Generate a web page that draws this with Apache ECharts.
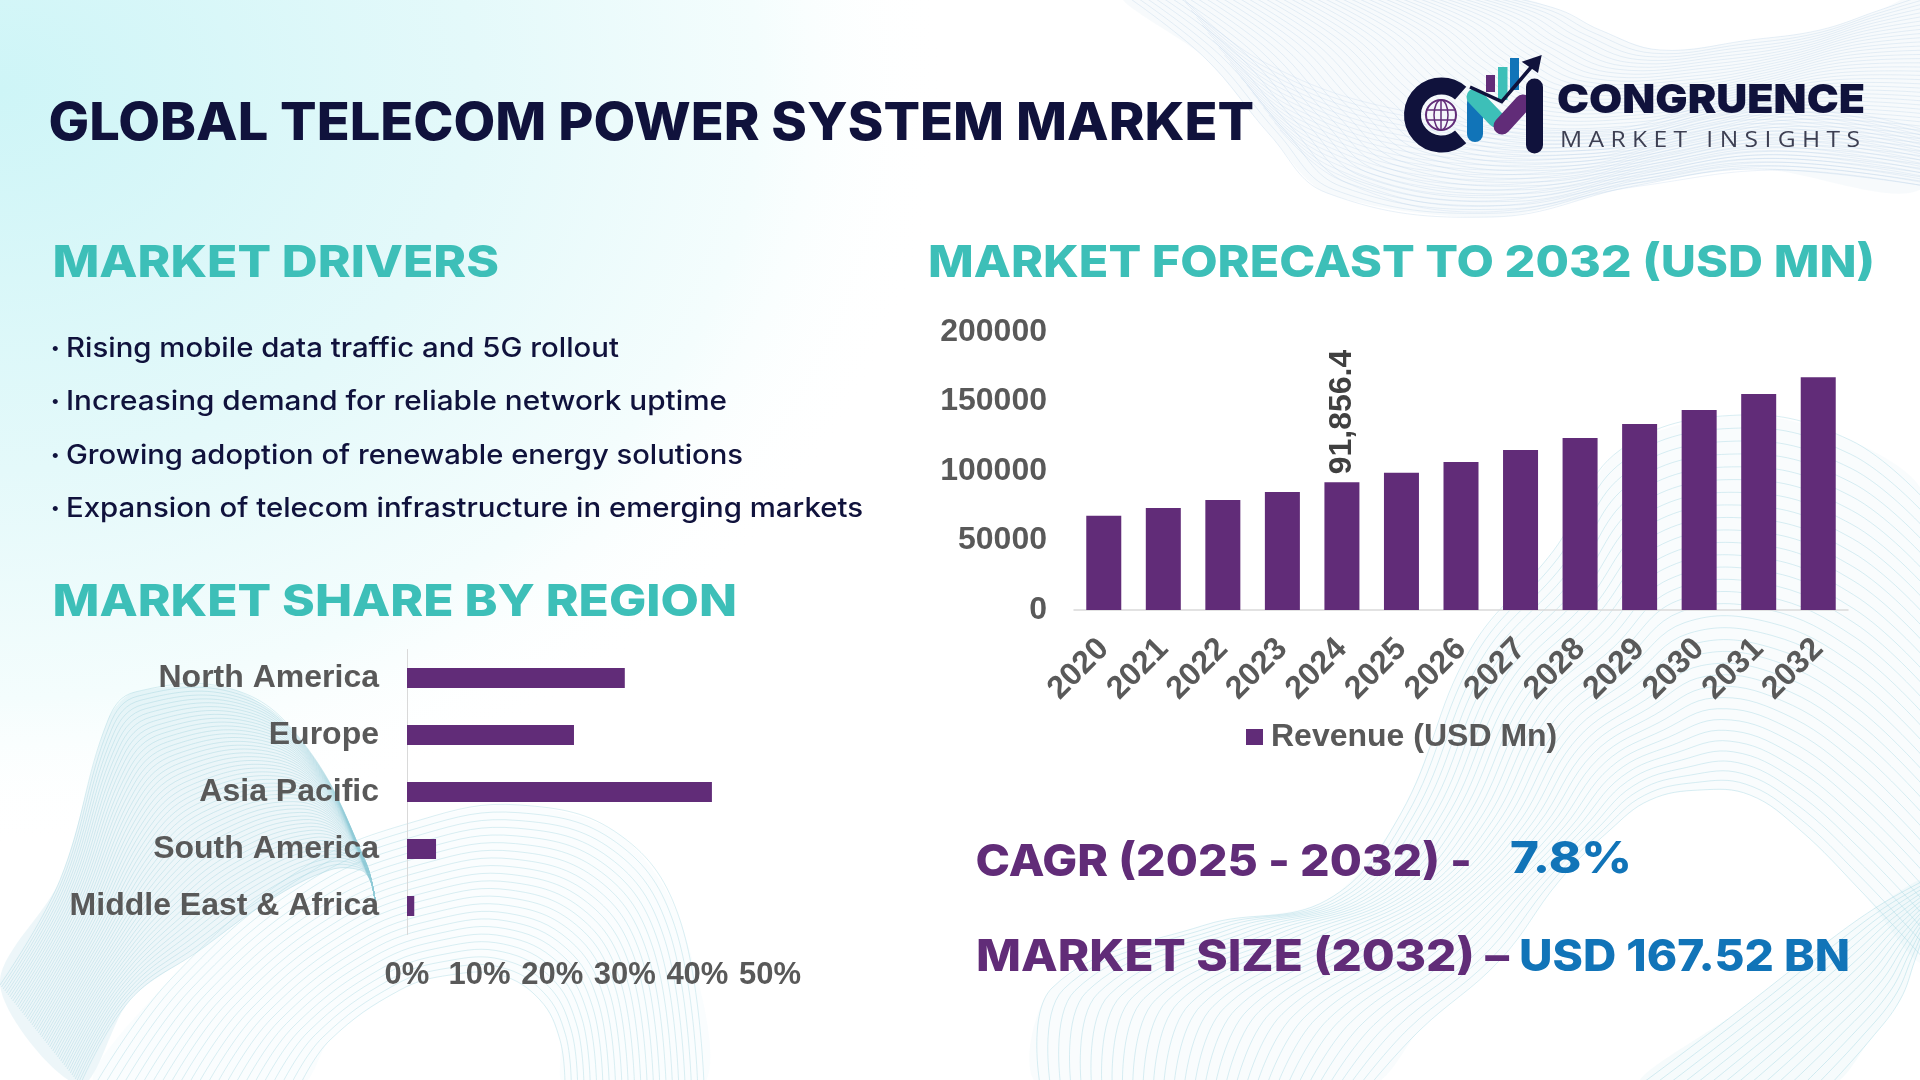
<!DOCTYPE html>
<html>
<head>
<meta charset="utf-8">
<title>Global Telecom Power System Market</title>
<style>
    html, body { margin: 0; padding: 0; background: #fff; }
    #main { width: 1920px; height: 1080px; }
</style>
<script src="https://cdn.jsdelivr.net/npm/echarts@6/dist/echarts.min.js"></script>
</head>
<body>
<div id="main"></div>
<script>
var years = ['2020', '2021', '2022', '2023', '2024', '2025', '2026', '2027', '2028', '2029', '2030', '2031', '2032'];
var revenue = [67800, 73400, 79100, 84900, 91856.4, 98700, 106400, 115100, 123700, 133900, 143800, 155400, 167520];
var labelledYear = '2024';
var regions = ['North America', 'Europe', 'Asia Pacific', 'South America', 'Middle East & Africa'];
var regionShare = [30, 23, 42, 4, 1];
var drivers = [
    'Rising mobile data traffic and 5G rollout',
    'Increasing demand for reliable network uptime',
    'Growing adoption of renewable energy solutions',
    'Expansion of telecom infrastructure in emerging markets'
];

var NAVY = '#10123c', TEAL = '#3dbfb8', PURPLE = '#612c78', BLUE = '#1174b8', GREY = '#595959';
var HEAD_FONT = 'Inter';

var measureCtx = document.createElement('canvas').getContext('2d');

// text squeezed or stretched to span left..right, since Montserrat is not installed
function fitText(text, left, right, midY, font, color) {
    measureCtx.font = font;
    var size = parseInt(font.split(' ')[1], 10);
    return {
        type: 'text',
        x: left,
        y: midY + size * 0.055,
        scaleX: (right - left) / measureCtx.measureText(text).width,
        z: 10,
        silent: true,
        style: { text: text, x: 0, y: 0, font: font, fill: color, align: 'left', verticalAlign: 'middle' }
    };
}

// decorative mesh: lines blended between two guide curves
function waveBand(a, b, count, color, opacity, tint) {
    var items = [];
    if (tint) {
        items.push({
            type: 'polygon', z: -9, silent: true,
            shape: { points: a.concat(b.slice().reverse()), smooth: 0.3 },
            style: { fill: color, opacity: tint }
        });
    }
    for (var n = 0; n <= count; n++) {
        var t = n / count;
        var pts = a.map(function (p, i) {
            return [p[0] + (b[i][0] - p[0]) * t, p[1] + (b[i][1] - p[1]) * t];
        });
        items.push({
            type: 'polyline', z: -8, silent: true,
            shape: { points: pts, smooth: 0.4 },
            style: { stroke: color, lineWidth: 1, fill: null, opacity: opacity }
        });
    }
    return items;
}

function backgroundItems() {
    var items = [{
        type: 'circle', z: -10, silent: true,
        shape: { cx: 0, cy: 90, r: 950 },
        scaleY: 0.8,
        originX: 0,
        originY: 90,
        style: {
            fill: {
                type: 'radial', x: 0.5, y: 0.5, r: 0.5,
                colorStops: [
                    { offset: 0, color: '#cef5f7' },
                    { offset: 0.5, color: '#e4f9fa' },
                    { offset: 0.8, color: '#f4fdfd' },
                    { offset: 1, color: 'rgba(255,255,255,0)' }
                ]
            }
        }
    }];
    // top right
    items = items.concat(waveBand(
        [[1125, -5], [1205, 58], [1270, 135], [1327, 193], [1493, 217], [1634, 186], [1756, 169], [1925, 186]],
        [[1500, -5], [1560, 10], [1600, 30], [1660, 50], [1750, 40], [1820, 30], [1880, 10], [1925, -5]],
        45, '#b4cde6', 0.3, 0.1));
    items = items.concat(waveBand(
        [[1180, -5], [1260, 60], [1400, 110], [1600, 130], [1750, 100], [1925, 130]],
        [[1280, 130], [1340, 180], [1470, 212], [1640, 186], [1780, 170], [1925, 186]],
        18, '#b4cde6', 0.25));
    // bottom left
    items = items.concat(waveBand(
        [[0, 985], [60, 880], [108, 720], [135, 692], [235, 690], [305, 745], [365, 860], [375, 900]],
        [[80, 1085], [130, 1000], [200, 950], [270, 900], [330, 870], [360, 870], [370, 880], [375, 900]],
        50, '#8fc9d8', 0.32, 0.16));
    items = items.concat(waveBand(
        [[95, 1085], [170, 980], [300, 870], [420, 820], [520, 805], [620, 835], [680, 920], [704, 1085]],
        [[300, 1085], [330, 1040], [400, 990], [450, 975], [500, 975], [540, 1000], [560, 1040], [565, 1085]],
        22, '#a5d6e2', 0.4, 0.05));
    // bottom right
    items = items.concat(waveBand(
        [[1040, 1085], [1052, 988], [1205, 925], [1327, 900], [1400, 815], [1470, 650], [1554, 550], [1620, 450], [1740, 415], [1850, 440], [1925, 500]],
        [[1370, 1085], [1420, 1030], [1500, 960], [1560, 880], [1610, 830], [1650, 800], [1700, 790], [1750, 795], [1800, 830], [1860, 890], [1925, 960]],
        32, '#a5d6e2', 0.42, 0.07));
    items = items.concat(waveBand(
        [[1640, 1085], [1740, 1010], [1830, 940], [1880, 905], [1925, 880]],
        [[1830, 1085], [1870, 1040], [1900, 1000], [1915, 960], [1925, 930]],
        14, '#a5d6e2', 0.45, 0.1));
    return items;
}

function logoItems() {
    function stroke(x1, y1, x2, y2, color, width) {
        return {
            type: 'line', z: 6, silent: true,
            shape: { x1: x1, y1: y1, x2: x2, y2: y2 },
            style: { stroke: color, lineWidth: width, lineCap: 'round' }
        };
    }
    function bar(x, y, w, h, color) {
        return { type: 'rect', z: 5, silent: true, shape: { x: x, y: y, width: w, height: h }, style: { fill: color } };
    }
    return [
        {
            type: 'arc', z: 5, silent: true,
            shape: { cx: 1441.5, cy: 115, r: 29, startAngle: 0.85, endAngle: Math.PI * 2 - 0.85, clockwise: true },
            style: { stroke: NAVY, lineWidth: 17, fill: null }
        },
        { type: 'circle', z: 5, silent: true, shape: { cx: 1441, cy: 115, r: 15 }, style: { stroke: PURPLE, lineWidth: 2, fill: '#f4f6fb' } },
        { type: 'ellipse', z: 5, silent: true, shape: { cx: 1441, cy: 115, rx: 7, ry: 15 }, style: { stroke: PURPLE, lineWidth: 1.5, fill: null } },
        stroke(1441, 100, 1441, 130, PURPLE, 1.5),
        stroke(1427, 110, 1455, 110, PURPLE, 1.5),
        stroke(1427, 120, 1455, 120, PURPLE, 1.5),
        bar(1486, 75, 9, 17, PURPLE),
        bar(1498, 67, 9.5, 33, TEAL),
        bar(1510, 58, 9, 32, BLUE),
        stroke(1475, 103, 1475, 134, BLUE, 16),
        stroke(1475, 97, 1496, 119, TEAL, 17),
        stroke(1502, 126, 1523, 103, PURPLE, 17),
        stroke(1534.5, 87, 1534.5, 145, NAVY, 17),
        {
            type: 'polyline', z: 7, silent: true,
            shape: { points: [[1470, 87], [1501.7, 101.7], [1533, 65]] },
            style: { stroke: NAVY, lineWidth: 3.5, fill: null }
        },
        {
            type: 'polygon', z: 7, silent: true,
            shape: { points: [[1541.7, 55], [1521.7, 61.7], [1538, 73]] },
            style: { fill: NAVY }
        },
        fitText('CONGRUENCE', 1557, 1865, 98.5, '900 40px ' + HEAD_FONT, NAVY),
        fitText('M A R K E T   I N S I G H T S', 1560, 1860, 140, '400 22px "Open Sans"', '#3d3f52')
    ];
}

function textItems() {
    var items = [
        fitText('GLOBAL TELECOM POWER SYSTEM MARKET', 48.5, 1254, 121, '800 52px ' + HEAD_FONT, NAVY),
        fitText('MARKET DRIVERS', 52.5, 499, 261, '800 44px ' + HEAD_FONT, TEAL),
        fitText('MARKET FORECAST TO 2032 (USD MN)', 928, 1875, 261, '800 44px ' + HEAD_FONT, TEAL),
        fitText('MARKET SHARE BY REGION', 52.5, 737, 600, '800 44px ' + HEAD_FONT, TEAL),
        fitText('CAGR (2025 - 2032) -', 975.5, 1472, 860, '800 44px ' + HEAD_FONT, PURPLE),
        fitText('7.8%', 1510, 1632, 857, '800 44px ' + HEAD_FONT, BLUE),
        fitText('MARKET SIZE (2032) –', 976, 1509, 955, '800 44px ' + HEAD_FONT, PURPLE),
        fitText('USD 167.52 BN', 1519, 1850, 955, '800 44px ' + HEAD_FONT, BLUE)
    ];
    var driverY = [347, 400, 454, 507];
    var driverRight = [619, 727, 743, 863];
    drivers.forEach(function (line, i) {
        items.push({
            type: 'text', x: 51, y: driverY[i] + 1, z: 10, silent: true,
            style: { text: '•', x: 0, y: 0, font: '500 16px ' + HEAD_FONT, fill: NAVY, align: 'left', verticalAlign: 'middle' }
        });
        items.push(fitText(line, 66, driverRight[i], driverY[i], '500 27px ' + HEAD_FONT, NAVY));
    });
    return items;
}

var chart = echarts.init(document.getElementById('main'));
chart.setOption({
    animation: false,
    backgroundColor: '#ffffff',
    graphic: { elements: backgroundItems().concat(logoItems(), textItems()) },
    legend: {
        data: ['Revenue (USD Mn)'],
        left: 1241,
        top: 716,
        icon: 'rect',
        itemWidth: 17,
        itemHeight: 16,
        selectedMode: false,
        textStyle: { color: GREY, fontFamily: 'Liberation Sans', fontWeight: 'bold', fontSize: 32, padding: [0, 0, 0, 3] }
    },
    grid: [
        { left: 1074, top: 332, width: 774, height: 278 },
        { left: 407, top: 649.5, width: 363, height: 285 }
    ],
    xAxis: [
        {
            type: 'category',
            gridIndex: 0,
            data: years,
            axisLine: { lineStyle: { color: '#d9d9d9', width: 1.5 } },
            axisTick: { show: false },
            axisLabel: {
                interval: 0, rotate: 45, margin: 34,
                color: GREY, fontFamily: 'Liberation Sans', fontWeight: 'bold', fontSize: 32
            }
        },
        {
            type: 'value',
            gridIndex: 1,
            min: 0,
            max: 50,
            interval: 10,
            axisLine: { show: false },
            axisTick: { show: false },
            splitLine: { show: false },
            axisLabel: {
                margin: 25, formatter: '{value}%',
                color: GREY, fontFamily: 'Liberation Sans', fontWeight: 'bold', fontSize: 31
            }
        }
    ],
    yAxis: [
        {
            type: 'value',
            gridIndex: 0,
            min: 0,
            max: 200000,
            interval: 50000,
            axisLine: { show: false },
            axisTick: { show: false },
            splitLine: { show: false },
            axisLabel: {
                margin: 27,
                padding: [7, 0, 0, 0],
                formatter: function (v) { return String(v); },
                color: GREY, fontFamily: 'Liberation Sans', fontWeight: 'bold', fontSize: 32
            }
        },
        {
            type: 'category',
            gridIndex: 1,
            inverse: true,
            data: regions,
            axisLine: { lineStyle: { color: '#d9d9d9', width: 1 } },
            axisTick: { show: false },
            axisLabel: {
                interval: 0, margin: 28,
                padding: [5, 0, 0, 0],
                color: GREY, fontFamily: 'Liberation Sans', fontWeight: 'bold', fontSize: 32
            }
        }
    ],
    series: [
        {
            name: 'Revenue (USD Mn)',
            type: 'bar',
            xAxisIndex: 0,
            yAxisIndex: 0,
            barWidth: 35,
            itemStyle: { color: PURPLE },
            data: revenue.map(function (v, i) {
                return { value: v, label: { show: years[i] === labelledYear } };
            }),
            label: {
                position: 'top',
                rotate: 90,
                align: 'left',
                verticalAlign: 'middle',
                distance: 3,
                offset: [5, 0],
                color: '#404040',
                fontFamily: 'Liberation Sans',
                fontWeight: 'bold',
                fontSize: 32,
                formatter: function (p) { return echarts.format.addCommas(p.value); }
            }
        },
        {
            name: 'Market share',
            type: 'bar',
            xAxisIndex: 1,
            yAxisIndex: 1,
            barWidth: 20,
            itemStyle: { color: PURPLE },
            data: regionShare
        }
    ]
});
</script>
</body>
</html>
